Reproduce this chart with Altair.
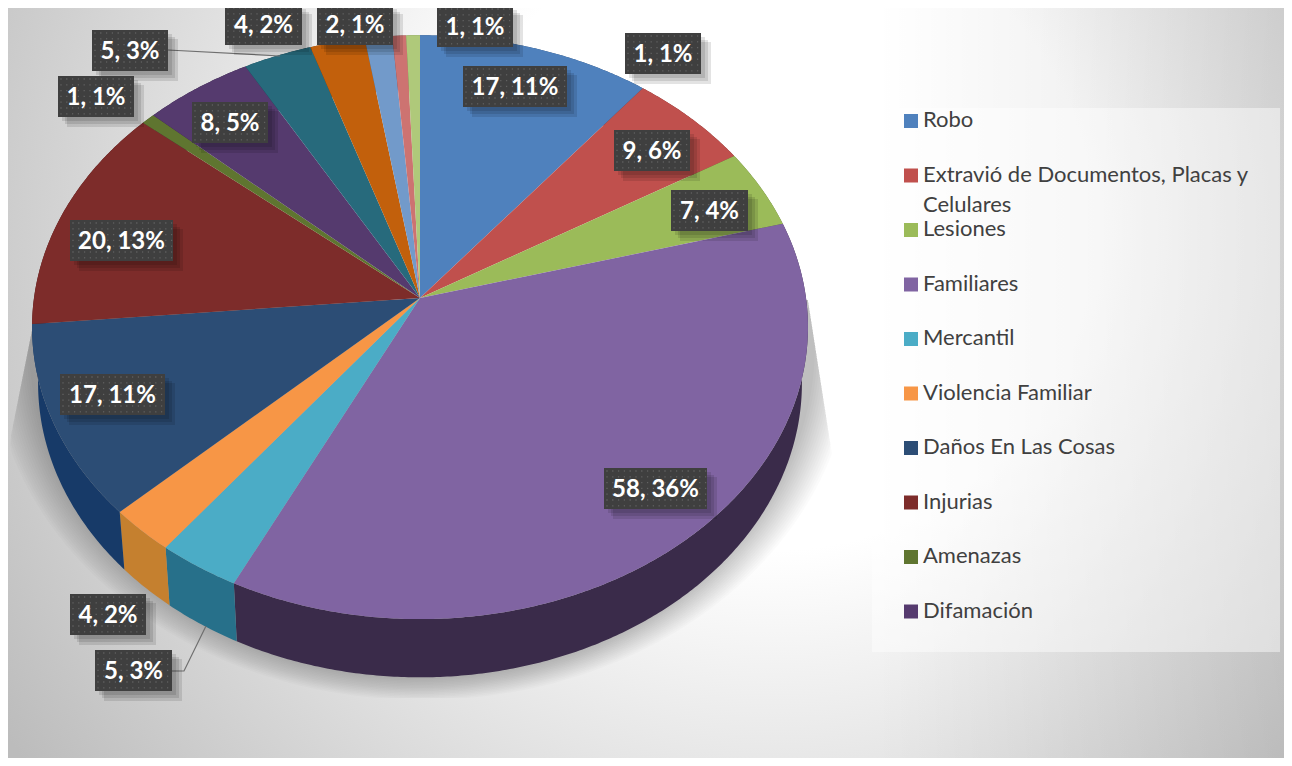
import numpy as np
import altair as alt

# ---------- data ----------
LEGEND_NAMES = ["Robo", "Extravió de Documentos, Placas y\nCelulares", "Lesiones", "Familiares", "Mercantil",
                "Violencia Familiar", "Daños En Las Cosas", "Injurias", "Amenazas", "Difamación"]
VALUES = [17, 9, 7, 58, 5, 4, 17, 20, 1, 8, 5, 4, 2, 1, 1]
LABELS = ["17, 11%", "9, 6%", "7, 4%", "58, 36%", "5, 3%", "4, 2%", "17, 11%", "20, 13%",
          "1, 1%", "8, 5%", "5, 3%", "4, 2%", "2, 1%", "1, 1%", "1, 1%"]
TOP_COLORS = ["#4f81bd", "#c0504d", "#9bbb59", "#8064a2", "#4bacc6", "#f79646", "#2c4d75", "#7d2c2a",
              "#5f7530", "#553a6e", "#276a7c", "#c2600c", "#729aca", "#cd7371", "#afc97a"]
WALL_COLORS = ["#2f4d72", "#73302e", "#5d7035", "#3a2b4a", "#27708a", "#c5802f", "#173a68", "#4c1c1b",
               "#3a4720", "#33233f", "#17404b", "#753805", "#44607f", "#7b4544", "#6a7a4a"]

# ---------- layout (style, not data) ----------
W, H = 1276, 750
OX, OY = 8, 8
APEX = (420.0, 298.0)
A, B, K = 386.0, 289.0, 0.10
WALL_DY, WALL_A, WALL_B = 56.0, 380.0, 291.0
# label boxes (left, top, right, bottom), in slice order
BOXES = [(463, 66, 567, 107), (614, 130, 690, 171), (671, 190, 748, 231), (604, 468, 707, 509),
         (95, 650, 172, 691), (70, 594, 146, 635), (60, 374, 165, 415), (70, 220, 173, 261),
         (58, 76, 134, 117), (192, 102, 268, 143), (92, 30, 168, 71), (225, 5, 302, 45),
         (317, 5, 393, 45), (625, 33, 701, 74), (437, 6, 513, 47)]
LEADERS = [[(168, 50), (280, 56)], [(172, 671), (184, 671), (206, 626)]]
LEGEND_BOX = (872, 108, 1280, 652)
LEGEND_X, LEGEND_TOP, LEGEND_STEP = 911, 121, 54.5


def project(theta, a=A, b=B, dy=0.0):
    u, v = np.sin(theta), np.cos(theta)
    d = 1 + K * v
    return APEX[0] + a * u / d, APEX[1] + dy - b * v / d


def feature(ring, color, opacity=1.0):
    coords = [[float(x), float(y)] for x, y in ring]
    coords.append(coords[0])
    return {"type": "Feature", "geometry": {"type": "Polygon", "coordinates": [coords]},
            "properties": {"color": color, "opacity": opacity}}


edges = np.cumsum([0] + VALUES) / sum(VALUES) * 2 * np.pi
tops, walls = [], []
for i in range(len(VALUES)):
    t = np.linspace(edges[i], edges[i + 1], max(3, int((edges[i + 1] - edges[i]) * 120)))
    xa, ya = project(t)
    tops.append(feature([APEX] + list(zip(xa, ya)), TOP_COLORS[i]))
    xb, yb = project(t, WALL_A, WALL_B, WALL_DY)
    walls.append(feature(list(zip(xa, ya)) + list(zip(xb, yb))[::-1], WALL_COLORS[i]))

# soft drop shadow below the pie: a stack of faint ellipses, clipped with sloped sides like the reference
phi = np.linspace(0, 2 * np.pi, 240)
shadows = []
for e in np.arange(1, 40, 2.5):
    ys = np.clip(346 + (331 + e * 0.6) * np.cos(phi), 300, 698)
    xs = 422 + (392 + e) * np.sin(phi)
    xs = np.minimum(xs, np.minimum(833, 808 + (ys - 300) * 25 / 160))
    xs = np.maximum(xs, np.maximum(10, 32 - (ys - 330) * 22 / 110))
    shadows.append(feature(list(zip(xs, ys)), "#000000", 0.017))

X = lambda f: alt.X(f, type="quantitative", scale=alt.Scale(domain=[OX, OX + W], range=[0, W]), axis=None)
Y = lambda f: alt.Y(f, type="quantitative", scale=alt.Scale(domain=[OY + H, OY], range=[H, 0]), axis=None)


def geo(features):
    return alt.Chart(alt.Data(values=features)).mark_geoshape(strokeWidth=0).encode(
        fill=alt.Fill("properties.color:N", scale=None),
        opacity=alt.Opacity("properties.opacity:Q", scale=None),
    ).project(type="identity", scale=1, translate=[-OX, -OY])


def rects(rows, **mark):
    return alt.Chart(alt.Data(values=rows)).mark_rect(**mark).encode(x=X("x"), x2="x2:Q", y=Y("y"), y2="y2:Q")


# ---------- background ----------
bg_row = [{"x": OX, "x2": OX + W, "y": OY, "y2": OY + H}]
background = rects(bg_row, fill=alt.RadialGradient(
    gradient="radial", x1=0.6, y1=0.38, x2=0.6, y2=0.38, r1=0.05, r2=0.72,
    stops=[alt.GradientStop(offset=0, color="#ffffff"), alt.GradientStop(offset=0.3, color="#ffffff"),
           alt.GradientStop(offset=1, color="#bcbcbc")]))
right_fade = rects(bg_row, fill=alt.LinearGradient(
    gradient="linear", x1=0, y1=0, x2=1, y2=0,
    stops=[alt.GradientStop(offset=0.68, color="rgba(0,0,0,0)"), alt.GradientStop(offset=1, color="rgba(0,0,0,0.10)")]))

# ---------- legend ----------
lb = LEGEND_BOX
legend_panel = rects([{"x": lb[0], "x2": lb[2], "y": lb[1], "y2": lb[3]}], fill="#ffffff", opacity=0.45)
legend_rows = [{"name": n, "x": LEGEND_X, "tx": LEGEND_X + 12, "y": LEGEND_TOP + i * LEGEND_STEP,
                "ty": LEGEND_TOP + i * LEGEND_STEP - 11, "color": TOP_COLORS[i]}
               for i, n in enumerate(LEGEND_NAMES)]
legend_sym = alt.Chart(alt.Data(values=legend_rows)).mark_square(size=196, opacity=1).encode(
    x=X("x"), y=Y("y"), fill=alt.Fill("color:N", scale=None))
legend_txt = alt.Chart(alt.Data(values=legend_rows)).mark_text(
    font="Lato", fontSize=22, color="#404040", align="left", baseline="top", lineBreak="\n", lineHeight=30
).encode(x=X("tx"), y=Y("ty"), text="name:N")

# ---------- labels ----------
box_rows = [{"x": b[0], "x2": b[2], "y": b[1], "y2": b[3], "cx": (b[0] + b[2]) / 2, "cy": (b[1] + b[3]) / 2 + 1,
             "label": LABELS[i]} for i, b in enumerate(BOXES)]
shadow_rows = []
for off, grow in ((4, 0), (7, 0), (9, 1)):
    shadow_rows += [{"x": r["x"] + off, "x2": r["x2"] + off + grow, "y": r["y"] + off, "y2": r["y2"] + off + grow}
                    for r in box_rows]
box_shadow = rects(shadow_rows, fill="#000000", opacity=0.11)
box_fill = rects(box_rows, fill="#3f3f3f")
dots = [{"x": float(px), "y": float(py)} for b in BOXES
        for px in np.arange(b[0] + 3, b[2] - 1, 5.8) for py in np.arange(b[1] + 3, b[3] - 1, 5.8)]
box_dots = alt.Chart(alt.Data(values=dots)).mark_square(size=1.6, color="#626262", opacity=1).encode(x=X("x"), y=Y("y"))
box_txt = alt.Chart(alt.Data(values=box_rows)).mark_text(
    font="Lato", fontWeight="bold", fontSize=24, color="#ffffff", align="center", baseline="middle"
).encode(x=X("cx"), y=Y("cy"), text="label:N")

leader_rows = [{"x": p[0], "y": p[1], "id": i, "o": j} for i, l in enumerate(LEADERS) for j, p in enumerate(l)]
leaders = alt.Chart(alt.Data(values=leader_rows)).mark_line(color="#6f6f6f", strokeWidth=1.2).encode(
    x=X("x"), y=Y("y"), detail="id:N", order="o:Q")

chart = alt.layer(
    background, right_fade, legend_panel, geo(shadows), geo(walls), geo(tops), leaders,
    box_shadow, box_fill, box_dots, box_txt, legend_sym, legend_txt,
).properties(width=W, height=H, padding=0, autosize=alt.AutoSizeParams(type="none")
).configure_view(stroke=None)

chart.save("out.html", embed_options={"renderer": "svg", "actions": False})
